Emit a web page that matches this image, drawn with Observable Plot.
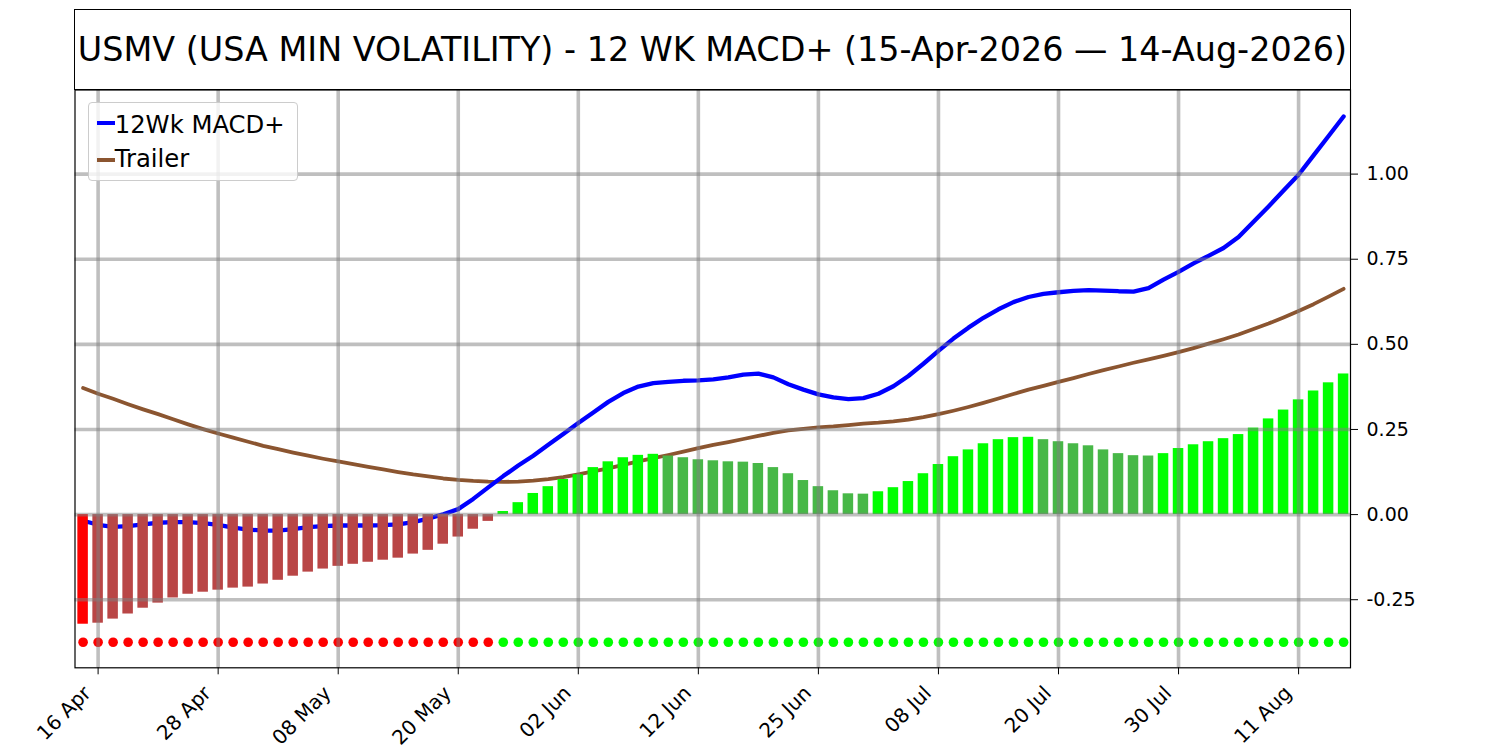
<!DOCTYPE html>
<html>
<head>
<meta charset="utf-8">
<script src="https://cdn.jsdelivr.net/npm/d3@7"></script>
<script src="https://cdn.jsdelivr.net/npm/@observablehq/plot@0.6"></script>
<style>
  body { margin: 0; background: #fff; font-family: "DejaVu Sans", sans-serif; }
  #wrap { position: relative; width: 1500px; height: 750px; overflow: hidden; }
  #chart { position: absolute; left: 0; top: 0; }
  #title {
    position: absolute; left: 74px; top: 8.5px; width: 1277px; height: 81.5px;
    box-sizing: border-box; border: 1.3px solid #000; background: #fff;
    display: flex; align-items: center; justify-content: center;
    font-size: 33.4px; white-space: nowrap; color: #000;
  }
  #legend {
    position: absolute; left: 87.7px; top: 102px; width: 210px; height: 79px;
    box-sizing: border-box; border: 1px solid #cccccc; border-radius: 4px;
    background: rgba(255,255,255,0.8);
  }
  .sw { position: absolute; left: 8px; width: 18px; height: 4px; }
  .lt { position: absolute; left: 26px; font-size: 24.3px; line-height: 24.3px; color: #000; white-space: nowrap; }
</style>
</head>
<body>
<div id="wrap">
  <div id="chart"></div>
  <div id="title"></div>
  <div id="legend">
    <div class="sw" id="sw1" style="top:18.3px;"></div>
    <div class="lt" id="lt1" style="top:9.6px;"></div>
    <div class="sw" id="sw2" style="top:55px;"></div>
    <div class="lt" id="lt2" style="top:43.8px;"></div>
  </div>
</div>
<script>
// ---- data (trading-day index 0 = 15-Apr-2026 ... 84 = 14-Aug-2026) ----
const histogram = [
  -0.322, -0.319, -0.307, -0.292, -0.275, -0.260, -0.245, -0.234, -0.228, -0.222,
  -0.216, -0.213, -0.204, -0.193, -0.181, -0.169, -0.160, -0.152, -0.146, -0.140,
  -0.134, -0.128, -0.116, -0.105, -0.087, -0.066, -0.043, -0.020, 0.009, 0.035,
  0.062, 0.082, 0.103, 0.117, 0.138, 0.155, 0.167, 0.174, 0.177, 0.172,
  0.167, 0.161, 0.158, 0.155, 0.154, 0.150, 0.138, 0.120, 0.100, 0.082,
  0.070, 0.061, 0.060, 0.067, 0.079, 0.097, 0.120, 0.147, 0.170, 0.190,
  0.208, 0.220, 0.226, 0.227, 0.220, 0.214, 0.208, 0.202, 0.190, 0.179,
  0.173, 0.172, 0.179, 0.194, 0.205, 0.214, 0.223, 0.235, 0.254, 0.281,
  0.307, 0.337, 0.363, 0.387, 0.413
];
const macd = [
  -0.018, -0.030, -0.036, -0.034, -0.029, -0.024, -0.022, -0.022, -0.025, -0.030,
  -0.038, -0.044, -0.047, -0.047, -0.043, -0.037, -0.034, -0.032, -0.032, -0.032,
  -0.031, -0.029, -0.022, -0.012, 0.001, 0.016, 0.046, 0.080, 0.113, 0.144,
  0.173, 0.205, 0.237, 0.269, 0.300, 0.331, 0.357, 0.376, 0.386, 0.390,
  0.393, 0.394, 0.397, 0.403, 0.411, 0.414, 0.403, 0.383, 0.367, 0.353,
  0.344, 0.339, 0.342, 0.355, 0.377, 0.407, 0.443, 0.481, 0.517, 0.549,
  0.578, 0.603, 0.624, 0.639, 0.648, 0.653, 0.657, 0.659, 0.658, 0.656,
  0.655, 0.665, 0.690, 0.713, 0.738, 0.760, 0.783, 0.815, 0.860, 0.905,
  0.952, 0.998, 1.055, 1.112, 1.169
];
const trailer = [
  0.372, 0.355, 0.340, 0.324, 0.309, 0.295, 0.280, 0.265, 0.251, 0.238,
  0.226, 0.214, 0.202, 0.192, 0.182, 0.173, 0.164, 0.156, 0.148, 0.140,
  0.133, 0.125, 0.118, 0.112, 0.106, 0.102, 0.099, 0.097, 0.096, 0.097,
  0.100, 0.104, 0.110, 0.118, 0.127, 0.136, 0.146, 0.156, 0.166, 0.175,
  0.185, 0.195, 0.205, 0.213, 0.222, 0.231, 0.240, 0.247, 0.252, 0.256,
  0.259, 0.263, 0.267, 0.270, 0.274, 0.279, 0.286, 0.295, 0.305, 0.316,
  0.328, 0.341, 0.354, 0.367, 0.378, 0.390, 0.401, 0.413, 0.424, 0.435,
  0.446, 0.456, 0.466, 0.477, 0.489, 0.502, 0.515, 0.529, 0.545, 0.561,
  0.579, 0.598, 0.618, 0.640, 0.663
];
const tickIndex = [1, 9, 17, 25, 33, 41, 49, 57, 65, 73, 81];
const tickLabels = ["16 Apr", "28 Apr", "08 May", "20 May", "02 Jun", "12 Jun",
                    "25 Jun", "08 Jul", "20 Jul", "30 Jul", "11 Aug"];
const yTicks = [-0.25, 0, 0.25, 0.5, 0.75, 1.0];
const titleText = "USMV (USA MIN VOLATILITY) - 12 WK MACD+ (15-Apr-2026 \u2014 14-Aug-2026)";
const seriesNames = ["12Wk MACD+", "Trailer"];

// ---- styling ----
const BLUE = "#0000ff", BROWN = "#8b5530";
const RED = "#ff0000", DARKRED = "#b94646", LIME = "#00ff00", DARKGREEN = "#47b847";
const SIGNAL_LEVEL = -0.375;

const data = histogram.map((h, i) => ({
  i, h, prev: i > 0 ? histogram[i - 1] : 0, macd: macd[i], trailer: trailer[i]
}));
const barColor = d => d.h >= 0 ? (d.h > d.prev ? LIME : DARKGREEN) : (d.h < d.prev ? RED : DARKRED);
const labelMap = new Map(tickIndex.map((t, k) => [t, tickLabels[k]]));
const grid = {stroke: "#808080", strokeOpacity: 0.5, strokeWidth: 3.6};
const fmt = d3.format(".2f");

const chart = Plot.plot({
  width: 1500,
  height: 750,
  marginTop: 89.5,
  marginBottom: 82.7,
  marginLeft: 74.5,
  marginRight: 150,
  style: {fontFamily: "DejaVu Sans", color: "#000", background: "transparent", overflow: "visible"},
  x: {type: "linear", domain: [-0.54, 84.46]},
  y: {domain: [-0.450, 1.247]},
  color: {type: "identity"},
  marks: [
    Plot.line(data, {x: "i", y: "trailer", stroke: BROWN, strokeWidth: 3.8}),
    Plot.line(data, {x: "i", y: "macd", stroke: BLUE, strokeWidth: 4.3}),
    Plot.rect(data, {x1: d => d.i - 0.35, x2: d => d.i + 0.35, y1: 0, y2: "h", fill: barColor}),
    Plot.dot(data, {x: "i", y: SIGNAL_LEVEL, r: 4.8, fill: d => d.h >= 0 ? LIME : RED, stroke: "none"}),
    Plot.ruleX(tickIndex, grid),
    Plot.ruleY(yTicks, grid),
    Plot.frame({stroke: "#000", strokeWidth: 1.2}),
    Plot.axisX({ticks: tickIndex, tickFormat: () => "", tickSize: 7, label: null}),
    Plot.text(tickIndex, {
      x: d => d, frameAnchor: "bottom", text: d => labelMap.get(d),
      rotate: -45, textAnchor: "end", lineAnchor: "middle",
      dx: -10.5, dy: 22, fontSize: 20, fill: "#000"
    }),
    Plot.axisY({
      anchor: "right", ticks: yTicks, tickFormat: d => fmt(d).replace("\u2212", "-"),
      tickSize: 7, tickPadding: 9, fontSize: 19, label: null
    })
  ]
});
document.getElementById("chart").appendChild(chart);

document.getElementById("title").textContent = titleText;
document.getElementById("sw1").style.background = BLUE;
document.getElementById("sw2").style.background = BROWN;
document.getElementById("lt1").textContent = seriesNames[0];
document.getElementById("lt2").textContent = seriesNames[1];
</script>
</body>
</html>
